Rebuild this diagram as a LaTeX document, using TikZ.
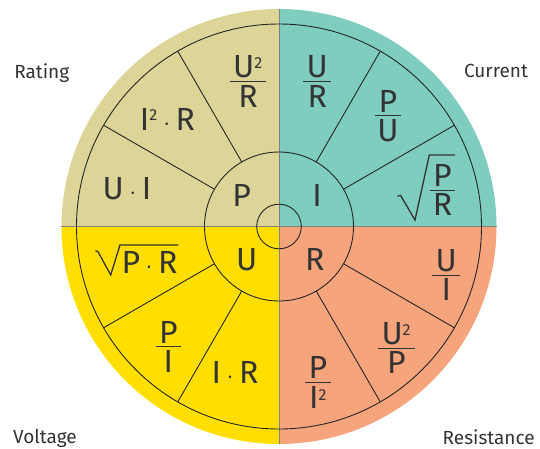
\documentclass[tikz,border=0pt]{standalone}
\usepackage		 {amsmath}
\usepackage		 {fontspec}
\setmainfont{Fira Sans}
\usepackage		 {xcolor   }
\usetikzlibrary{calc}

\definecolor{rating}{HTML}{DCD597}
\definecolor{current}{HTML}{7ECDBE}
\definecolor{voltage}{HTML}{FFDE00}
\definecolor{resist}{HTML}{F6A47C}
\definecolor{txt}{HTML}{333333}

\newcommand{\sq}{^{\scriptscriptstyle\mathrm{2}}}
\newcommand{\frc}[2]{$\dfrac{\hspace{3.5pt}\raisebox{-7pt}{$\mathrm{#1}$}\hspace{3.5pt}}{\mathrm{#2}}$}

\begin{document}
\begin{tikzpicture}[x=1pt,y=1pt]
  \tikzset{ ln/.style={draw=black!85,line width=0.9pt},
    sep/.style={draw=black!50,line width=0.6pt},
    rad/.style={draw=txt,line width=1.3pt,line join=miter},
    big/.style={text=txt,inner sep=0pt,anchor=base,font=\fontsize{32}{34}\selectfont},
    side/.style={text=txt,inner sep=0pt,anchor=base,font=\fontsize{19}{22}\selectfont},
  }
  \useasboundingbox (-279,-221.5) rectangle (261,226.5);
  \coordinate (c) at (0,0);

  % the four coloured quarters
  \fill[rating]  (c) -- (90:217.5)  arc (90:180:217.5)  -- cycle;
  \fill[current] (c) -- (0:217.5)   arc (0:90:217.5)    -- cycle;
  \fill[voltage] (c) -- (180:217.5) arc (180:270:217.5) -- cycle;
  \fill[resist]  (c) -- (270:217.5) arc (270:360:217.5) -- cycle;
  \draw[sep] (90:217.5) -- (270:217.5);
  \draw[sep] (180:217.5) -- (0:217.5);

  % the rings and the spokes
  \draw[ln] (c) circle (202.5);
  \draw[ln] (c) circle (74.5);
  \draw[ln] (c) circle (22.3);
  \foreach \a in {30,60,120,150,210,240,300,330}
    \draw[ln] (\a:74.5) -- (\a:202.5);

  % inner letters
  \node[big] (p) at (-37.3,19.8) {P};
  \node[big] (i) at (38,20.5) {I};
  \node[big] (u) at (-32.3,-43.5) {U};
  \node[big] (r) at (35.7,-44.2) {R};

  % power
  \node[big] (p1) at (-31,138.8) {\frc{U\sq}{R}};
  \node[big] (p2) at (-111.5,96.5) {$\mathrm{I}\sq\cdot\mathrm{R}$};
  \node[big] (p3) at (-152,27.2) {$\mathrm{U}\cdot\mathrm{I}$};

  % current
  \node[big] (i1) at (38.3,138.8) {\frc{U}{R}};
  \node[big] (i2) at (109,104.5) {\frc{P}{U}};
  \node[big] (i3) at (163.5,30.2) {\frc{P}{R}};
  \draw[rad] (118.5,30.2) -- (121.5,31.2) -- (136,6.5) -- (150.3,71.5) -- (176,71.5);

  % voltage
  \node[big] (u1) at (-129.5,-46.8) {$\mathrm{P}\cdot\mathrm{R}$};
  \draw[rad] (-183.5,-24.2) -- (-181,-25.2) -- (-168.3,-48.5) -- (-159,-18.5) -- (-100.7,-18.5);
  \node[big] (u2) at (-110.7,-126.5) {\frc{P}{I}};
  \node[big] (u3) at (-44,-156.8) {$\mathrm{I}\cdot\mathrm{R}$};

  % resistance
  \node[big] (r1) at (167.3,-54.8) {\frc{U}{I}};
  \node[big] (r2) at (117.3,-127.8) {\frc{U\sq}{P}};
  \node[big] (r3) at (39,-162.2) {\frc{P}{I\sq}};

  % names outside the disc
  \node[side] (rating) at (-237.3,148.2) {Rating};
  \node[side] (current) at (217,148.8) {Current};
  \node[side] (voltage) at (-234,-216.8) {Voltage};
  \node[side] (resistance) at (209.7,-217.8) {Resistance};
\end{tikzpicture}
\end{document}
